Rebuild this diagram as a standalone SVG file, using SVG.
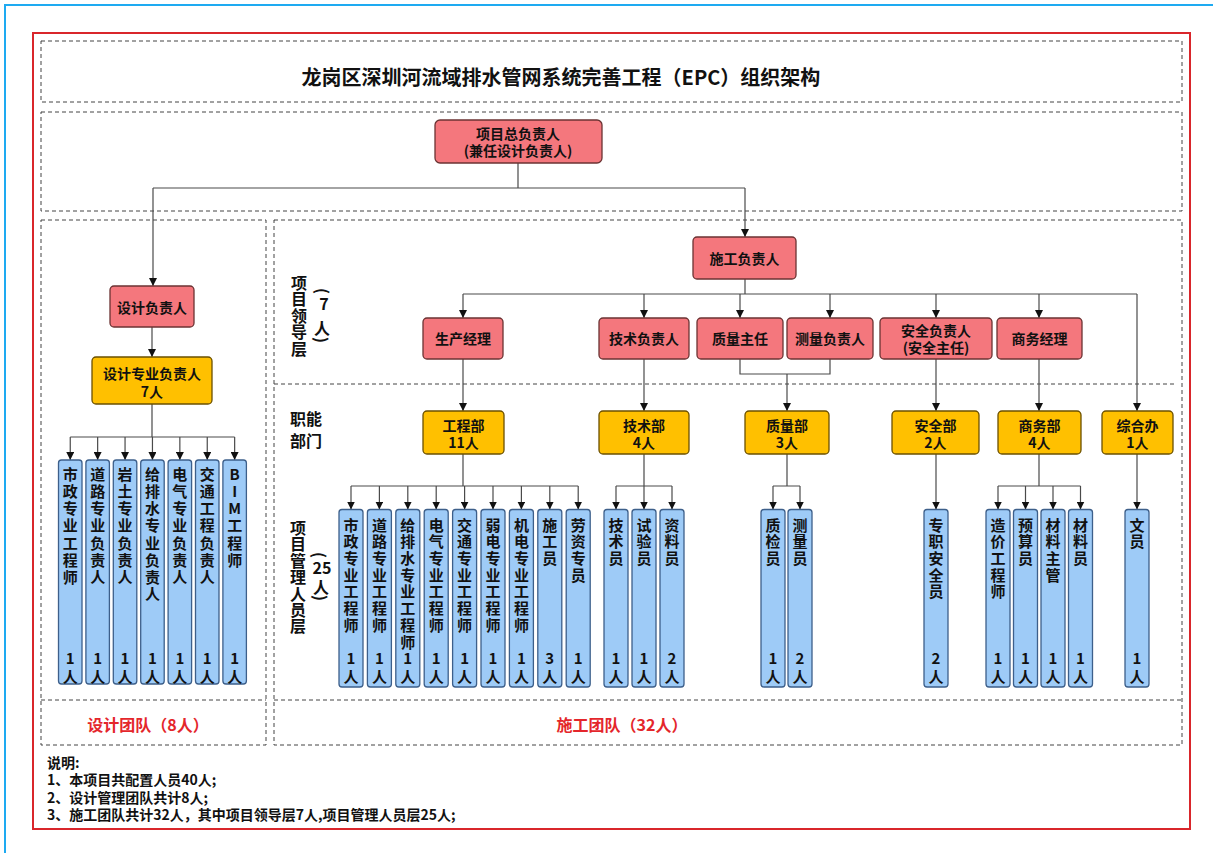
<svg xmlns="http://www.w3.org/2000/svg" width="1213" height="853" viewBox="0 0 1213 853">
<defs>
<marker id="arr" viewBox="0 0 8 8" markerWidth="8" markerHeight="8" markerUnits="userSpaceOnUse" refX="8" refY="4" orient="auto">
<path d="M0,0 L8,4 L0,8 z" fill="#111"/>
</marker>
</defs>
<style>
text{font-family:"Noto Sans CJK SC","Noto Sans",sans-serif;font-weight:700;fill:#111}
.dash{fill:none;stroke:#444;stroke-width:1;stroke-dasharray:4 3}
.red rect{fill:#F4777D;stroke:#6b3333;stroke-width:1.3}
.yel rect{fill:#FFC000;stroke:#6b5000;stroke-width:1.3}
.blu rect{fill:#9ECBF7;stroke:#3d5f8a;stroke-width:1.3}
.n{font-size:14px;text-anchor:middle;dominant-baseline:central}
.v{font-size:15px;writing-mode:vertical-rl;text-orientation:upright;letter-spacing:1.7px}
.vd{letter-spacing:2.1px}
.c{font-size:15px;writing-mode:vertical-rl;text-orientation:upright;letter-spacing:4px}
.side{font-size:16px}
.sv{font-size:16px;writing-mode:vertical-rl;text-orientation:upright;letter-spacing:0.4px}
.team{font-size:16px;fill:#E4262B;text-anchor:middle;dominant-baseline:central}
.note{font-size:14px;dominant-baseline:central}
#connectors path{fill:none;stroke:#4a4a4a;stroke-width:1.2}
#connectors path.a{marker-end:url(#arr)}
</style>
<rect x="0" y="0" width="1213" height="853" fill="#fff"/>
<rect x="5" y="5" width="1220" height="860" fill="none" stroke="#1EAAF1" stroke-width="2"/>
<rect x="33" y="33" width="1157" height="796" fill="none" stroke="#D9262B" stroke-width="2"/>
<g id="frames">
<rect class="dash" x="41" y="41" width="1141" height="61"/>
<rect class="dash" x="41" y="112" width="1141" height="99"/>
<rect class="dash" x="41" y="220" width="225" height="525"/>
<path class="dash" d="M41,700 H266"/>
<rect class="dash" x="274" y="220" width="908" height="525"/>
<path class="dash" d="M274,384 H1175 M274,700 H1182"/>
</g>
<text x="561" y="76" font-size="20" text-anchor="middle" dominant-baseline="central">龙岗区深圳河流域排水管网系统完善工程（EPC）组织架构</text>
<g id="connectors">
<path d="M518,163 V188 M153,188 H745"/>
<path class="a" d="M153,188 V286"/>
<path class="a" d="M745,188 V237"/>
<path class="a" d="M152,327 V357"/>
<path d="M152,404 V437 M70.25,437 H234.65"/>
<path class="a" d="M70.25,437 V460"/>
<path class="a" d="M97.65,437 V460"/>
<path class="a" d="M125.05,437 V460"/>
<path class="a" d="M152.45,437 V460"/>
<path class="a" d="M179.85,437 V460"/>
<path class="a" d="M207.25,437 V460"/>
<path class="a" d="M234.65,437 V460"/>
<path d="M745,279 V294 M463,294 H1137"/>
<path class="a" d="M463,294 V318"/>
<path class="a" d="M644,294 V318"/>
<path class="a" d="M740,294 V318"/>
<path class="a" d="M830,294 V318"/>
<path class="a" d="M936,294 V318"/>
<path class="a" d="M1039,294 V318"/>
<path class="a" d="M1137,294 V411"/>
<path class="a" d="M463,359 V411"/>
<path class="a" d="M644,359 V411"/>
<path d="M740,359 V374 H830 V359"/>
<path class="a" d="M787,374 V411"/>
<path class="a" d="M936,359 V411"/>
<path class="a" d="M1039,359 V411"/>
<path d="M463,454 V486 M351,486 H578.2"/>
<path class="a" d="M351,486 V509.5"/>
<path class="a" d="M379.4,486 V509.5"/>
<path class="a" d="M407.8,486 V509.5"/>
<path class="a" d="M436.2,486 V509.5"/>
<path class="a" d="M464.6,486 V509.5"/>
<path class="a" d="M493,486 V509.5"/>
<path class="a" d="M521.4,486 V509.5"/>
<path class="a" d="M549.8,486 V509.5"/>
<path class="a" d="M578.2,486 V509.5"/>
<path d="M644,454 V486 M616,486 H672"/>
<path class="a" d="M616,486 V509.5"/>
<path class="a" d="M644,486 V509.5"/>
<path class="a" d="M672,486 V509.5"/>
<path d="M787,454 V486 M773,486 H800"/>
<path class="a" d="M773,486 V509.5"/>
<path class="a" d="M800,486 V509.5"/>
<path class="a" d="M936,454 V509.5"/>
<path d="M1039,454 V486 M998,486 H1080.5"/>
<path class="a" d="M998,486 V509.5"/>
<path class="a" d="M1025.5,486 V509.5"/>
<path class="a" d="M1053,486 V509.5"/>
<path class="a" d="M1080.5,486 V509.5"/>
<path class="a" d="M1137,454 V509.5"/>
</g>
<g id="n-top" class="red"><rect x="435" y="120" width="167" height="43" rx="5"/><text class="n" x="518" y="133">项目总负责人</text><text class="n" x="518" y="150">(兼任设计负责人)</text></g>
<g id="n-design-lead" class="red"><rect x="110" y="286" width="84" height="41" rx="4"/><text class="n" x="152" y="307">设计负责人</text></g>
<g id="n-design-prof" class="yel"><rect x="92" y="357" width="120" height="47" rx="4"/><text class="n" x="152" y="373">设计专业负责人</text><text class="n" x="152" y="391">7人</text></g>
<g id="n-con-lead" class="red"><rect x="693" y="237" width="103" height="42" rx="4"/><text class="n" x="744.5" y="258">施工负责人</text></g>
<g id="n-prod" class="red"><rect x="423" y="318" width="80" height="41" rx="4"/><text class="n" x="463" y="338">生产经理</text></g>
<g id="n-tech" class="red"><rect x="599" y="318" width="90" height="41" rx="4"/><text class="n" x="644" y="338">技术负责人</text></g>
<g id="n-qual" class="red"><rect x="697" y="318" width="86" height="41" rx="4"/><text class="n" x="740" y="338">质量主任</text></g>
<g id="n-survey" class="red"><rect x="787" y="318" width="86" height="41" rx="4"/><text class="n" x="830" y="338">测量负责人</text></g>
<g id="n-safe" class="red"><rect x="880" y="318" width="112" height="41" rx="4"/><text class="n" x="936" y="330">安全负责人</text><text class="n" x="936" y="347">(安全主任)</text></g>
<g id="n-biz" class="red"><rect x="997" y="318" width="85" height="41" rx="4"/><text class="n" x="1039.5" y="338">商务经理</text></g>
<g id="d-eng" class="yel"><rect x="423" y="411" width="81" height="43" rx="4"/><text class="n" x="463.5" y="425">工程部</text><text class="n" x="463.5" y="442">11人</text></g>
<g id="d-tech" class="yel"><rect x="599" y="411" width="90" height="43" rx="4"/><text class="n" x="644" y="425">技术部</text><text class="n" x="644" y="442">4人</text></g>
<g id="d-qual" class="yel"><rect x="745" y="411" width="84" height="43" rx="4"/><text class="n" x="787" y="425">质量部</text><text class="n" x="787" y="442">3人</text></g>
<g id="d-safe" class="yel"><rect x="892" y="411" width="87" height="43" rx="4"/><text class="n" x="935.5" y="425">安全部</text><text class="n" x="935.5" y="442">2人</text></g>
<g id="d-biz" class="yel"><rect x="998" y="411" width="83" height="43" rx="4"/><text class="n" x="1039.5" y="425">商务部</text><text class="n" x="1039.5" y="442">4人</text></g>
<g id="d-office" class="yel"><rect x="1102" y="411" width="71" height="43" rx="4"/><text class="n" x="1137.5" y="425">综合办</text><text class="n" x="1137.5" y="442">1人</text></g>
<g id="dc1" class="blu"><rect x="58.5" y="460" width="23.5" height="224" rx="3"/><text class="v vd" x="70.25" y="467">市政专业工程师</text><text class="c" x="70.25" y="650.5">1人</text></g>
<g id="dc2" class="blu"><rect x="85.9" y="460" width="23.5" height="224" rx="3"/><text class="v vd" x="97.65" y="467">道路专业负责人</text><text class="c" x="97.65" y="650.5">1人</text></g>
<g id="dc3" class="blu"><rect x="113.3" y="460" width="23.5" height="224" rx="3"/><text class="v vd" x="125.05" y="467">岩土专业负责人</text><text class="c" x="125.05" y="650.5">1人</text></g>
<g id="dc4" class="blu"><rect x="140.7" y="460" width="23.5" height="224" rx="3"/><text class="v vd" x="152.45" y="467">给排水专业负责人</text><text class="c" x="152.45" y="650.5">1人</text></g>
<g id="dc5" class="blu"><rect x="168.1" y="460" width="23.5" height="224" rx="3"/><text class="v vd" x="179.85" y="467">电气专业负责人</text><text class="c" x="179.85" y="650.5">1人</text></g>
<g id="dc6" class="blu"><rect x="195.5" y="460" width="23.5" height="224" rx="3"/><text class="v vd" x="207.25" y="467">交通工程负责人</text><text class="c" x="207.25" y="650.5">1人</text></g>
<g id="dc7" class="blu"><rect x="222.9" y="460" width="23.5" height="224" rx="3"/><text class="v vd" x="234.65" y="467">BIM工程师</text><text class="c" x="234.65" y="650.5">1人</text></g>
<g id="cc1" class="blu"><rect x="339" y="509.5" width="24" height="177.5" rx="3"/><text class="v" x="351" y="517.5">市政专业工程师</text><text class="c" x="351" y="650.5">1人</text></g>
<g id="cc2" class="blu"><rect x="367.4" y="509.5" width="24" height="177.5" rx="3"/><text class="v" x="379.4" y="517.5">道路专业工程师</text><text class="c" x="379.4" y="650.5">1人</text></g>
<g id="cc3" class="blu"><rect x="395.8" y="509.5" width="24" height="177.5" rx="3"/><text class="v" x="407.8" y="517.5">给排水专业工程师</text><text class="c" x="407.8" y="650.5">1人</text></g>
<g id="cc4" class="blu"><rect x="424.2" y="509.5" width="24" height="177.5" rx="3"/><text class="v" x="436.2" y="517.5">电气专业工程师</text><text class="c" x="436.2" y="650.5">1人</text></g>
<g id="cc5" class="blu"><rect x="452.6" y="509.5" width="24" height="177.5" rx="3"/><text class="v" x="464.6" y="517.5">交通专业工程师</text><text class="c" x="464.6" y="650.5">1人</text></g>
<g id="cc6" class="blu"><rect x="481" y="509.5" width="24" height="177.5" rx="3"/><text class="v" x="493" y="517.5">弱电专业工程师</text><text class="c" x="493" y="650.5">1人</text></g>
<g id="cc7" class="blu"><rect x="509.4" y="509.5" width="24" height="177.5" rx="3"/><text class="v" x="521.4" y="517.5">机电专业工程师</text><text class="c" x="521.4" y="650.5">1人</text></g>
<g id="cc8" class="blu"><rect x="537.8" y="509.5" width="24" height="177.5" rx="3"/><text class="v" x="549.8" y="517.5">施工员</text><text class="c" x="549.8" y="650.5">3人</text></g>
<g id="cc9" class="blu"><rect x="566.2" y="509.5" width="24" height="177.5" rx="3"/><text class="v" x="578.2" y="517.5">劳资专员</text><text class="c" x="578.2" y="650.5">1人</text></g>
<g id="tc1" class="blu"><rect x="604" y="509.5" width="24" height="177.5" rx="3"/><text class="v" x="616" y="517.5">技术员</text><text class="c" x="616" y="650.5">1人</text></g>
<g id="tc2" class="blu"><rect x="632" y="509.5" width="24" height="177.5" rx="3"/><text class="v" x="644" y="517.5">试验员</text><text class="c" x="644" y="650.5">1人</text></g>
<g id="tc3" class="blu"><rect x="660" y="509.5" width="24" height="177.5" rx="3"/><text class="v" x="672" y="517.5">资料员</text><text class="c" x="672" y="650.5">2人</text></g>
<g id="qc1" class="blu"><rect x="761" y="509.5" width="24" height="177.5" rx="3"/><text class="v" x="773" y="517.5">质检员</text><text class="c" x="773" y="650.5">1人</text></g>
<g id="qc2" class="blu"><rect x="788" y="509.5" width="24" height="177.5" rx="3"/><text class="v" x="800" y="517.5">测量员</text><text class="c" x="800" y="650.5">2人</text></g>
<g id="sc1" class="blu"><rect x="924" y="509.5" width="24" height="177.5" rx="3"/><text class="v" x="936" y="517.5">专职安全员</text><text class="c" x="936" y="650.5">2人</text></g>
<g id="bc1" class="blu"><rect x="986" y="509.5" width="24" height="177.5" rx="3"/><text class="v" x="998" y="517.5">造价工程师</text><text class="c" x="998" y="650.5">1人</text></g>
<g id="bc2" class="blu"><rect x="1013.5" y="509.5" width="24" height="177.5" rx="3"/><text class="v" x="1025.5" y="517.5">预算员</text><text class="c" x="1025.5" y="650.5">1人</text></g>
<g id="bc3" class="blu"><rect x="1041" y="509.5" width="24" height="177.5" rx="3"/><text class="v" x="1053" y="517.5">材料主管</text><text class="c" x="1053" y="650.5">1人</text></g>
<g id="bc4" class="blu"><rect x="1068.5" y="509.5" width="24" height="177.5" rx="3"/><text class="v" x="1080.5" y="517.5">材料员</text><text class="c" x="1080.5" y="650.5">1人</text></g>
<g id="oc1" class="blu"><rect x="1125" y="509.5" width="24" height="177.5" rx="3"/><text class="v" x="1137" y="517.5">文员</text><text class="c" x="1137" y="650.5">1人</text></g>
<g id="labels">
<text class="sv" x="299" y="275">项目领导层</text>
<text class="side" transform="translate(323,291) rotate(90)" text-anchor="middle" dominant-baseline="central">(</text>
<text class="side" x="324" y="303" text-anchor="middle" dominant-baseline="central">7</text>
<text class="side" x="322" y="327" text-anchor="middle" dominant-baseline="central">人</text>
<text class="side" transform="translate(322,340) rotate(90)" text-anchor="middle" dominant-baseline="central">)</text>
<text class="side" x="306" y="418" text-anchor="middle" dominant-baseline="central">职能</text>
<text class="side" x="306" y="440" text-anchor="middle" dominant-baseline="central">部门</text>
<text class="sv" x="298" y="520">项目管理人员层</text>
<text class="side" transform="translate(320,555) rotate(90)" text-anchor="middle" dominant-baseline="central">(</text>
<text class="side" x="322" y="567" text-anchor="middle" dominant-baseline="central">25</text>
<text class="side" x="321" y="586" text-anchor="middle" dominant-baseline="central">人</text>
<text class="side" transform="translate(321,598) rotate(90)" text-anchor="middle" dominant-baseline="central">)</text>
<text class="team" x="148" y="724">设计团队（8人）</text>
<text class="team" x="622" y="724">施工团队（32人）</text>
</g>
<g id="notes">
<text class="note" x="47" y="762">说明:</text>
<text class="note" x="47" y="779">1、本项目共配置人员40人;</text>
<text class="note" x="47" y="796.5">2、设计管理团队共计8人;</text>
<text class="note" x="47" y="814">3、施工团队共计32人，其中项目领导层7人,项目管理人员层25人;</text>
</g>
</svg>
